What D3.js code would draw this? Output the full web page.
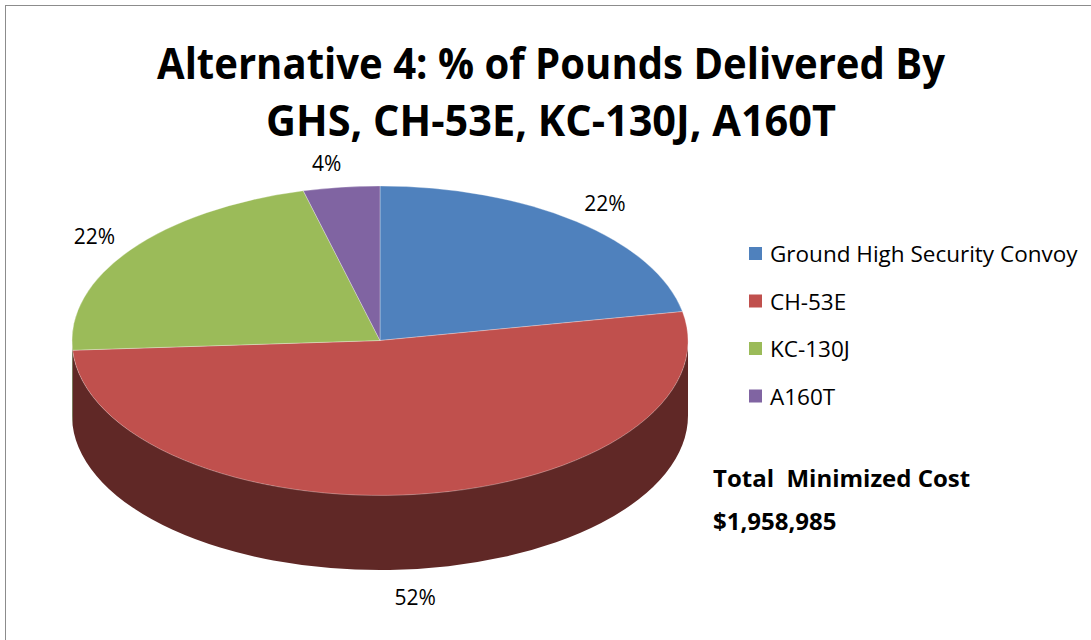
<!DOCTYPE html>
<html>
<head>
<meta charset="utf-8">
<script src="https://cdn.jsdelivr.net/npm/d3@7"></script>
<style>
  body { margin: 0; background: #fff; }
  text { font-family: "Open Sans", sans-serif; white-space: pre; }
</style>
</head>
<body>
<div id="chart"></div>
<script>
// data
var categories = ["Ground High Security Convoy", "CH-53E", "KC-130J", "A160T"];
var percents = [22, 52, 22, 4];
var colors = ["#4F81BD", "#C0504D", "#9BBB59", "#8064A2"];
var titleLines = ["Alternative 4: % of Pounds Delivered By", "GHS, CH-53E, KC-130J, A160T"];
var noteLines = ["Total  Minimized Cost", "$1,958,985"];

var width = 1091, height = 640;
var cx = 380, cy = 340.5, rx = 308, ry = 154.5, depth = 75;

var svg = d3.select("#chart").append("svg")
    .attr("width", width)
    .attr("height", height);

// chart frame
svg.append("rect")
    .attr("x", 5.5).attr("y", 5.5)
    .attr("width", width + 20).attr("height", height + 20)
    .attr("fill", "#fff")
    .attr("stroke", "#8c8c8c");

// title
svg.selectAll("text.title")
    .data(titleLines)
    .enter().append("text")
    .attr("class", "title")
    .attr("x", 551)
    .attr("y", function(d, i) { return 79 + i * 57; })
    .attr("text-anchor", "middle")
    .attr("font-size", 43)
    .attr("font-weight", "bold")
    .attr("textLength", function(d, i) { return i == 0 ? 788 : 570; })
    .attr("lengthAdjust", "spacingAndGlyphs")
    .text(function(d) { return d; });

var pie = d3.pie().sort(null).value(function(d) { return d; });
var arcs = pie(percents);

// point on the ellipse for an angle (0 at top, clockwise)
function pt(a, dy) {
    return [cx + rx * Math.sin(a), cy - ry * Math.cos(a) + (dy || 0)];
}

// sides (only the front half is visible)
var sides = svg.append("g");
arcs.forEach(function(d, i) {
    var a0 = Math.max(d.startAngle, Math.PI / 2);
    var a1 = Math.min(d.endAngle, Math.PI * 3 / 2);
    if (a1 <= a0) return;
    var p0 = pt(a0), p1 = pt(a1), q1 = pt(a1, depth), q0 = pt(a0, depth);
    var path = "M" + p0 + " A" + rx + "," + ry + " 0 0 1 " + p1 +
               " L" + q1 + " A" + rx + "," + ry + " 0 0 0 " + q0 + " Z";
    sides.append("path")
        .attr("d", path)
        .attr("fill", d3.color(colors[i]).darker(1.95));
});

// top face: unit circle arcs stretched into the ellipse
var arc = d3.arc().innerRadius(0).outerRadius(1);
svg.append("g")
    .attr("transform", "translate(" + cx + "," + cy + ") scale(" + rx + "," + ry + ")")
    .selectAll("path")
    .data(arcs)
    .enter().append("path")
    .attr("d", arc)
    .attr("fill", function(d, i) { return colors[i]; })
    .attr("stroke", "#ffffff")
    .attr("stroke-opacity", 0.5)
    .attr("stroke-width", 0.6)
    .attr("vector-effect", "non-scaling-stroke");

// percent labels outside the pie
svg.selectAll("text.pct")
    .data(arcs)
    .enter().append("text")
    .attr("class", "pct")
    .attr("x", function(d) {
        var m = (d.startAngle + d.endAngle) / 2;
        return cx + (rx + 45) * Math.sin(m) + (Math.abs(Math.sin(m)) < 0.2 ? -9 : 0);
    })
    .attr("y", function(d) {
        var m = (d.startAngle + d.endAngle) / 2;
        var y = cy - (ry + 24) * Math.cos(m);
        if (m > Math.PI / 2 && m < Math.PI * 3 / 2) y += depth + 4;
        return y + 8;
    })
    .attr("text-anchor", "middle")
    .attr("font-size", 21)
    .attr("fill", "#000")
    .text(function(d) { return d.data + "%"; });

// legend
var legend = svg.selectAll("g.legend")
    .data(categories)
    .enter().append("g")
    .attr("class", "legend")
    .attr("transform", function(d, i) { return "translate(749," + (247 + i * 47.5) + ")"; });
legend.append("rect")
    .attr("width", 13).attr("height", 13)
    .attr("fill", function(d, i) { return colors[i]; });
legend.append("text")
    .attr("x", 21).attr("y", 15)
    .attr("font-size", 22.5)
    .text(function(d) { return d; });

// note
svg.selectAll("text.note")
    .data(noteLines)
    .enter().append("text")
    .attr("class", "note")
    .attr("x", 713)
    .attr("y", function(d, i) { return 487 + i * 43; })
    .attr("font-size", 24)
    .attr("font-weight", "bold")
    .text(function(d) { return d; });
</script>
</body>
</html>
